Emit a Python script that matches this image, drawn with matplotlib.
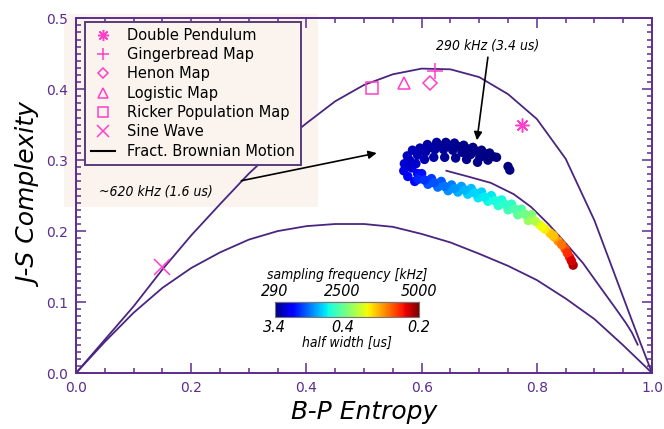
import matplotlib
matplotlib.use('Agg')
import matplotlib.pyplot as plt
from matplotlib.lines import Line2D
from matplotlib.patches import Rectangle
from matplotlib.colors import Normalize
from matplotlib.ticker import MultipleLocator

# --- boundary curves of the complexity-entropy plane
max_h = [0.0, 0.05, 0.10, 0.15, 0.20, 0.25, 0.30, 0.35, 0.40, 0.45, 0.50, 0.55, 0.60,
         0.65, 0.70, 0.75, 0.80, 0.85, 0.90, 0.93, 0.96, 0.98, 1.0]
max_c = [0.0, 0.047, 0.094, 0.146, 0.194, 0.238, 0.281, 0.319, 0.352, 0.383, 0.406, 0.421, 0.429,
         0.428, 0.417, 0.393, 0.358, 0.302, 0.215, 0.150, 0.085, 0.042, 0.0]
min_h = [0.0, 0.05, 0.10, 0.15, 0.20, 0.25, 0.30, 0.35, 0.40, 0.45, 0.50, 0.55, 0.60,
         0.65, 0.70, 0.75, 0.80, 0.85, 0.90, 0.95, 1.0]
min_c = [0.0, 0.044, 0.085, 0.120, 0.148, 0.170, 0.188, 0.200, 0.207, 0.210, 0.210, 0.206, 0.196,
         0.184, 0.168, 0.151, 0.131, 0.105, 0.076, 0.039, 0.0]

# fractional Brownian motion curve
fbm_h = [0.643, 0.68, 0.72, 0.76, 0.79, 0.82, 0.85, 0.88, 0.91, 0.935, 0.955, 0.965, 0.975]
fbm_c = [0.285, 0.277, 0.268, 0.252, 0.234, 0.210, 0.183, 0.155, 0.121, 0.093, 0.070, 0.057, 0.040]

# reference systems
ref_names = ['Double Pendulum', 'Gingerbread Map', 'Henon Map', 'Logistic Map',
             'Ricker Population Map', 'Sine Wave']
ref_h = [0.774, 0.623, 0.614, 0.570, 0.513, 0.150]
ref_c = [0.349, 0.426, 0.409, 0.409, 0.402, 0.149]
ref_markers = [(8, 2, 0), '+', 'D', '^', 's', 'x']
ref_sizes = [10, 11, 7, 9, 9, 11]

# measured points: entropy, complexity, sampling frequency [kHz]
meas_h = [0.730, 0.718, 0.704, 0.689, 0.673, 0.657, 0.642, 0.626, 0.610, 0.597, 0.584,
          0.715, 0.701, 0.685, 0.670, 0.654, 0.638, 0.623, 0.607, 0.593, 0.579,
          0.697, 0.678, 0.659, 0.640, 0.621, 0.605, 0.590,
          0.724, 0.710, 0.694, 0.679, 0.664, 0.648, 0.632, 0.616, 0.601,
          0.750, 0.753,
          0.570, 0.569, 0.576, 0.583, 0.593, 0.588, 0.575, 0.580,
          0.597, 0.614, 0.631, 0.649, 0.666, 0.683, 0.701, 0.718, 0.736, 0.753, 0.770, 0.788,
          0.805, 0.823, 0.837, 0.849, 0.857, 0.863,
          0.600, 0.617, 0.634, 0.652, 0.669, 0.686, 0.704, 0.721, 0.739, 0.756, 0.773, 0.791,
          0.594, 0.611, 0.628, 0.646, 0.663, 0.680, 0.698, 0.715, 0.733, 0.750, 0.767, 0.785,
          0.605, 0.622, 0.640, 0.657, 0.675, 0.692, 0.709, 0.727, 0.744, 0.762, 0.779,
          0.797, 0.814, 0.830, 0.843, 0.853, 0.860, 0.809, 0.828]
meas_c = [0.304, 0.310, 0.314, 0.318, 0.321, 0.324, 0.325, 0.325, 0.322, 0.317, 0.314,
          0.300, 0.304, 0.308, 0.311, 0.314, 0.315, 0.315, 0.312, 0.307, 0.300,
          0.297, 0.301, 0.303, 0.304, 0.304, 0.301, 0.295,
          0.305, 0.309, 0.313, 0.316, 0.319, 0.320, 0.320, 0.318, 0.314,
          0.291, 0.286,
          0.295, 0.285, 0.277, 0.289, 0.281, 0.270, 0.306, 0.292,
          0.277, 0.270, 0.266, 0.261, 0.259, 0.256, 0.251, 0.246, 0.240, 0.234, 0.227, 0.219,
          0.209, 0.197, 0.186, 0.175, 0.163, 0.152,
          0.281, 0.274, 0.270, 0.265, 0.263, 0.260, 0.255, 0.250, 0.244, 0.238, 0.231, 0.223,
          0.273, 0.266, 0.262, 0.257, 0.255, 0.252, 0.247, 0.242, 0.236, 0.230, 0.223, 0.215,
          0.272, 0.268, 0.263, 0.260, 0.258, 0.254, 0.248, 0.243, 0.238, 0.231, 0.224,
          0.214, 0.203, 0.192, 0.181, 0.169, 0.158, 0.206, 0.194]
meas_f = [290, 300, 310, 320, 340, 360, 380, 400, 430, 470, 520,
          300, 310, 330, 350, 370, 400, 420, 460, 520, 580,
          330, 350, 380, 410, 450, 500, 600,
          300, 310, 330, 340, 360, 390, 410, 440, 490,
          290, 290,
          650, 700, 800, 700, 850, 900, 560, 620,
          1000, 1200, 1350, 1500, 1650, 1800, 1900, 2000, 2100, 2250, 2450, 2750,
          3200, 3550, 3850, 4200, 4500, 4800,
          950, 1150, 1300, 1450, 1600, 1750, 1850, 1950, 2050, 2200, 2400, 2700,
          1050, 1250, 1400, 1550, 1700, 1850, 1950, 2050, 2150, 2300, 2500, 2800,
          1100, 1250, 1420, 1570, 1720, 1870, 1980, 2080, 2200, 2380, 2600,
          2950, 3400, 3700, 4000, 4350, 4650, 3300, 3600]

cbar_freq = [290, 2500, 5000]
cbar_freq_labels = ['290', '2500', '5000']
cbar_width_labels = ['3.4', '0.4', '0.2']

purple = '#5b2d8e'
curve_col = '#4a2580'
pink = '#ff3fc8'
cond = dict(family='DejaVu Sans', style='italic', stretch='condensed')

fig = plt.figure(figsize=(6.64, 4.29), dpi=100)
fig.patch.set_facecolor('white')
fig.patches.append(Rectangle((0.096, 0.517), 0.383, 0.45, transform=fig.transFigure,
                             facecolor='#fbf4ee', edgecolor='none', zorder=-5))

ax = fig.add_axes([0.1145, 0.1305, 0.8675, 0.827])
ax.set_facecolor('none')

ax.plot(max_h, max_c, color=curve_col, lw=1.3)
ax.plot(min_h, min_c, color=curve_col, lw=1.3)
ax.plot(fbm_h, fbm_c, color=curve_col, lw=1.3)

handles = []
for name, h, c, m, ms in zip(ref_names, ref_h, ref_c, ref_markers, ref_sizes):
    ln, = ax.plot([h], [c], linestyle='none', marker=m, markersize=ms,
                  markerfacecolor='none', markeredgecolor=pink, markeredgewidth=1.1,
                  label=name)
    handles.append(ln)
handles.append(Line2D([], [], color='black', lw=1.5, label='Fract. Brownian Motion'))

norm = Normalize(vmin=290, vmax=5000)
sc = ax.scatter(meas_h, meas_c, c=meas_f, cmap='jet', norm=norm, s=46, linewidths=0, zorder=3)

leg = ax.legend(handles=handles, loc='upper left', bbox_to_anchor=(0.015, 0.99),
                borderaxespad=0, frameon=True, fancybox=False, fontsize=10.5,
                labelspacing=0.3, handlelength=1.7, handletextpad=0.8, borderpad=0.4,
                markerscale=0.8)
leg.get_frame().set_facecolor('#fbf4ee')
leg.get_frame().set_edgecolor('#5a3a7a')
leg.get_frame().set_linewidth(1.4)
leg.get_frame().set_alpha(1)

ax.text(0.714, 0.462, '290 kHz (3.4 us)', ha='center', va='center', fontsize=10, **cond)
ax.annotate('', xy=(0.696, 0.328), xytext=(0.715, 0.445),
            arrowprops=dict(arrowstyle='-|>', color='black', lw=1.2,
                            shrinkA=0, shrinkB=0, mutation_scale=12))
ax.text(0.139, 0.256, '~620 kHz (1.6 us)', ha='center', va='center', fontsize=10, **cond)
ax.annotate('', xy=(0.522, 0.310), xytext=(0.287, 0.271),
            arrowprops=dict(arrowstyle='-|>', color='black', lw=1.2,
                            shrinkA=0, shrinkB=0, mutation_scale=12))

ax.set_xlim(0, 1)
ax.set_ylim(0, 0.5)
ax.xaxis.set_major_locator(MultipleLocator(0.2))
ax.xaxis.set_minor_locator(MultipleLocator(0.05))
ax.yaxis.set_major_locator(MultipleLocator(0.1))
ax.yaxis.set_minor_locator(MultipleLocator(0.01))
ax.xaxis.set_major_formatter(plt.FormatStrFormatter('%.1f'))
ax.yaxis.set_major_formatter(plt.FormatStrFormatter('%.1f'))
ax.tick_params(which='both', direction='in', top=True, right=True, color=purple,
               labelcolor=purple, labelsize=10, width=1.1)
ax.tick_params(which='major', length=7, pad=6)
ax.tick_params(which='minor', length=3.5)
for sp in ax.spines.values():
    sp.set_color(purple)
    sp.set_linewidth(1.4)

ax.set_xlabel('B-P Entropy', fontsize=18, style='italic', labelpad=3)
ax.set_ylabel('J-S Complexity', fontsize=18, style='italic', labelpad=2)

# colour bar
cax = fig.add_axes([0.414, 0.261, 0.217, 0.035])
cb = fig.colorbar(sc, cax=cax, orientation='horizontal')
cb.outline.set_edgecolor('#777777')
cb.outline.set_linewidth(0.8)
cb.set_ticks(cbar_freq)
cb.set_ticklabels(cbar_width_labels)
cax.tick_params(axis='x', length=0, pad=2)
for lab in cax.get_xticklabels():
    lab.set_fontsize(11.5)
    lab.set_fontstyle('italic')
    lab.set_fontstretch('condensed')
cax.set_xlabel('half width [us]', fontsize=10, labelpad=1, **cond)
top = cax.secondary_xaxis('top')
top.set_xticks(cbar_freq)
top.set_xticklabels(cbar_freq_labels, fontsize=11.5, style='italic', stretch='condensed')
top.tick_params(length=0, pad=2)
top.set_xlabel('sampling frequency [kHz]', fontsize=10, labelpad=4, **cond)

fig.savefig('out.png', dpi=100)
